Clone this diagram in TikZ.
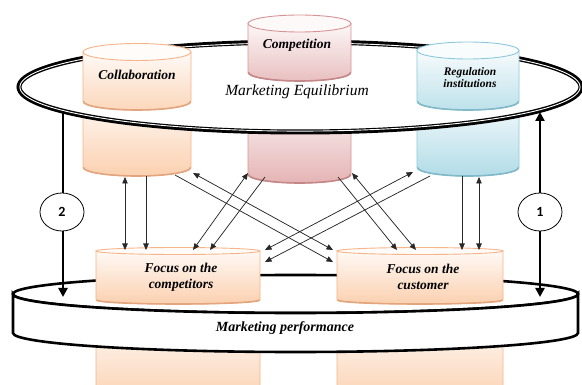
\documentclass[tikz,border=0pt]{standalone}
\usepackage{fontspec}
\setmainfont{Liberation Serif}
\newfontfamily\digitfont{Carlito}
\usetikzlibrary{arrows.meta,shapes.geometric}

\definecolor{orangeB}{RGB}{246,180,136}
\definecolor{orangeF}{RGB}{251,208,175}
\definecolor{pinkB}{RGB}{214,148,148}
\definecolor{pinkF}{RGB}{229,180,181}
\definecolor{blueB}{RGB}{140,201,218}
\definecolor{blueF}{RGB}{178,220,231}
\colorlet{orangeU}{orangeF!85!white}
\colorlet{pinkU}{pinkF!85!white}
\colorlet{blueU}{blueF!85!white}
\definecolor{linkgray}{RGB}{40,40,40}

% cylinder body: cx, rx, top y, bottom-arc y, ry, border, fill
\newcommand\drawcylbody[7]{%
  \path[draw=#6, line width=0.9pt, top color=#7!12!white, bottom color=#7]
    (#1-#2,#3) -- (#1-#2,#4)
    arc[start angle=180, end angle=0, x radius=#2, y radius=#5]
    -- (#1+#2,#3);
  \draw[#6!92!black, line width=1.6pt]
    (#1-#2+0.5,#4) arc[start angle=180, end angle=0, x radius=#2-0.5, y radius=#5];}
% cylinder cap: cx, cy, rx, ry, border, fill
\newcommand\drawcylcap[6]{%
  \path[draw=#5, line width=0.9pt, fill=#6] (#1,#2) ellipse[x radius=#3, y radius=#4];}

\tikzset{
  lbl/.style={font=\bfseries\itshape\fontsize{13.5}{15}\selectfont, align=center, inner sep=0pt},
  link/.style={draw=linkgray, line width=0.75pt},
  onehead/.style={link, -{Triangle[length=6.5pt,width=5.5pt]}},
  twoheads/.style={link, {Triangle[length=6.5pt,width=5.5pt]}-{Triangle[length=6.5pt,width=5.5pt]}},
  heavy/.style={draw=black, line width=2.6pt},
  heavyhead/.style={heavy, -{Triangle[length=9pt,width=9pt]}},
  stage/.style={draw=black, line width=0.8pt, fill=white, ellipse, minimum width=44pt, minimum height=38pt, inner sep=0pt, font=\digitfont\bfseries\fontsize{14}{16}\selectfont},
}

\begin{document}
\begin{tikzpicture}[x=1pt,y=-1pt]
\useasboundingbox (0,0) rectangle (582,385);
\clip (0,0) rectangle (582,385);

% ---- lower halves of the three driver cylinders (below the equilibrium plane)
\drawcylbody{137}{54}{100}{167.5}{8.5}{orangeB}{orangeF}
\drawcylbody{299.5}{51.5}{100}{174.5}{8.5}{pinkB}{pinkF}
\drawcylbody{468}{51}{100}{167.5}{8.5}{blueB}{blueF}

% ---- marketing equilibrium plane
\path[fill=white, draw=black, line width=5pt] (300,87) ellipse[x radius=281, y radius=45];
\draw[white, line width=0.9pt] (300,87) ellipse[x radius=280.1, y radius=44.1];

% ---- upper halves of the driver cylinders
\drawcylbody{137}{54}{52}{101.5}{8.5}{orangeB}{orangeU}
\drawcylcap{137}{52}{54}{8.5}{orangeB}{orangeF!6}
\drawcylbody{299.5}{51.5}{23.5}{72.5}{8.5}{pinkB}{pinkU}
\drawcylcap{299.5}{23.5}{51.5}{8.5}{pinkB}{pinkF!8}
\drawcylbody{468}{51}{50.5}{101.5}{8.5}{blueB}{blueU}
\drawcylcap{468}{50.5}{51}{8.5}{blueB}{blueF!8}

\node[lbl] (collab) at (137,75) {Collaboration};
\node[lbl] (compet) at (297,45) {Competition};
\node[lbl, font=\bfseries\itshape\fontsize{11.5}{13}\selectfont] (regul) at (470,77.5) {Regulation\\[-1pt]institutions};
\node[font=\itshape\fontsize{15.5}{17}\selectfont, inner sep=0pt] (equil) at (297,92) {Marketing Equilibrium};

% ---- lower halves of the focus cylinders (below the performance ring)
\drawcylbody{178}{82}{320}{400}{4}{orangeB}{orangeF}
\drawcylbody{420}{83}{320}{400}{4}{orangeB}{orangeF}

% ---- performance ring: top face
\path[fill=white, draw=black, line width=2.6pt] (295.5,294) ellipse[x radius=282.5, y radius=19];

% ---- focus cylinders standing on the ring
\drawcylbody{178}{82}{251}{300}{4}{orangeB}{orangeF}
\drawcylcap{178}{251}{82}{3.5}{orangeB}{orangeF!8}
\drawcylbody{420}{83}{251}{300}{4}{orangeB}{orangeF}
\drawcylcap{420}{251}{83}{3.5}{orangeB}{orangeF!8}

\node[lbl] (fcomp) at (181,277) {Focus on the\\[1pt]competitors};
\node[lbl] (fcust) at (423,277) {Focus on the\\[1pt]customer};

% ---- performance ring: front band
\path[fill=white, draw=black, line width=2.6pt]
  (13,294) arc[start angle=180, end angle=0, x radius=282.5, y radius=19]
  -- (578,333) arc[start angle=0, end angle=180, x radius=282.5, y radius=19]
  -- cycle;
\node[lbl, font=\bfseries\itshape\fontsize{14}{16}\selectfont] (perf) at (285,328) {Marketing performance};

% ---- connector end points
\coordinate (colA) at (125,177);   \coordinate (fcA) at (125,250);
\coordinate (colB) at (146,176);   \coordinate (fcB) at (146,250);
\coordinate (regA) at (462,176);   \coordinate (fuA) at (462,250);
\coordinate (regB) at (479,177);   \coordinate (fuB) at (479,250);
\coordinate (colC) at (175,175);   \coordinate (fuC) at (333,262);
\coordinate (colD) at (193,173);   \coordinate (fuD) at (333,250);
\coordinate (comA) at (265,177);   \coordinate (fcC) at (210,250);
\coordinate (comB) at (248,173);   \coordinate (fcD) at (193,250);
\coordinate (comC) at (338,177);   \coordinate (fuE) at (397,250);
\coordinate (comD) at (352,173);   \coordinate (fuF) at (416,250);
\coordinate (regC) at (430,176);   \coordinate (fcE) at (265,262);
\coordinate (regD) at (413,172);   \coordinate (fcF) at (265,250);

% ---- links between drivers and focus
\draw[twoheads] (colA) -- (fcA);
\draw[onehead]  (colB) -- (fcB);
\draw[onehead]  (regA) -- (fuA);
\draw[twoheads] (regB) -- (fuB);
\draw[onehead]  (colC) -- (fuC);
\draw[twoheads] (colD) -- (fuD);
\draw[onehead]  (comA) -- (fcC);
\draw[twoheads] (comB) -- (fcD);
\draw[onehead]  (comC) -- (fuE);
\draw[twoheads] (comD) -- (fuF);
\draw[onehead]  (regC) -- (fcE);
\draw[twoheads] (regD) -- (fcF);

% ---- feedback paths
\node[stage] (s2) at (62,212) {2};
\node[stage] (s1) at (540,212) {1};
\coordinate (eqL) at (63,111);
\coordinate (perfL) at (63,297);
\coordinate (eqR) at (540,112);
\coordinate (perfR) at (540,297);
\draw[heavy] (eqL) -- (eqL |- s2.north);
\draw[heavyhead] (perfL |- s2.south) -- (perfL);
\draw[heavyhead] (s1.north) -- (eqR);
\draw[heavyhead] (s1.south) -- (perfR);
\end{tikzpicture}
\end{document}
